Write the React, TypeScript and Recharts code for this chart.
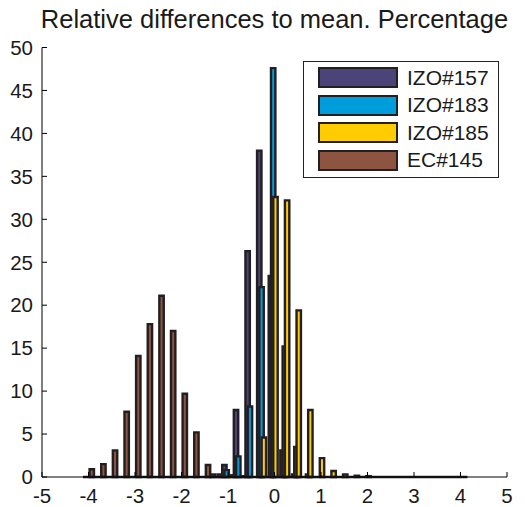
import React from 'react';
import { BarChart, Bar, XAxis, YAxis, Legend, ReferenceLine } from 'recharts';

// bin centres of the histogram (percent difference to mean)
const bins = [
  -4, -3.75, -3.5, -3.25, -3, -2.75, -2.5, -2.25, -2, -1.75, -1.5, -1.25, -1, -0.75, -0.5, -0.25,
  0, 0.25, 0.5, 0.75, 1, 1.25, 1.5, 1.75, 2, 2.25, 2.5, 2.75, 3, 3.25, 3.5, 3.75, 4,
];

const izo157 = [
  0, 0, 0, 0, 0, 0, 0, 0, 0, 0, 0, 0.3, 1.4, 7.8, 26.3, 38.0,
  23.4, 3.1, 0.3, 0, 0, 0, 0, 0, 0, 0, 0, 0, 0, 0, 0, 0, 0,
];
const izo183 = [
  0, 0, 0, 0, 0, 0, 0, 0, 0, 0, 0, 0, 0.8, 2.4, 8.2, 22.1,
  47.6, 15.2, 3.5, 0.3, 0, 0, 0, 0, 0, 0, 0, 0, 0, 0, 0, 0, 0,
];
const izo185 = [
  0, 0, 0, 0, 0, 0, 0, 0, 0, 0, 0, 0, 0, 0, 0, 4.6,
  32.6, 32.2, 19.4, 7.8, 2.2, 0.7, 0.3, 0.15, 0.1, 0, 0, 0, 0, 0, 0, 0, 0,
];
const ec145 = [
  0.9, 1.5, 3.1, 7.6, 14.1, 17.8, 21.1, 17.0, 9.7, 5.2, 1.4, 0.3, 0.2, 0.1, 0, 0,
  0, 0, 0, 0, 0, 0, 0, 0, 0, 0, 0, 0, 0, 0, 0, 0, 0,
];

const xTicks = [-5, -4, -3, -2, -1, 0, 1, 2, 3, 4, 5];
const yTicks = [0, 5, 10, 15, 20, 25, 30, 35, 40, 45, 50];

const series = [
  { key: 'izo157', name: 'IZO#157', color: '#4a4478' },
  { key: 'izo183', name: 'IZO#183', color: '#009ddc' },
  { key: 'izo185', name: 'IZO#185', color: '#ffcc00' },
  { key: 'ec145', name: 'EC#145', color: '#8e5442' },
];

const data = bins.map((x, i) => ({
  x,
  izo157: izo157[i],
  izo183: izo183[i],
  izo185: izo185[i],
  ec145: ec145[i],
}));

const FONT = '"Liberation Sans", Arial, Helvetica, sans-serif';
const EDGE = '#231f20';
const tickStyle = { fontSize: 20.5, fill: '#1a1a1a', fontFamily: FONT };

// MATLAB-like boxed legend
const BoxLegend = () => (
  <div
    style={{
      border: '1.5px solid #222',
      background: '#fff',
      padding: '2px 8px 3px 14px',
      fontFamily: FONT,
      fontSize: 21,
      color: '#1a1a1a',
      boxSizing: 'border-box',
    }}
  >
    {series.map((s) => (
      <div key={s.key} style={{ display: 'flex', alignItems: 'center', height: 27.5 }}>
        <span
          style={{
            width: 76,
            height: 17,
            background: s.color,
            border: `2px solid ${EDGE}`,
            marginRight: 9,
            display: 'inline-block',
          }}
        />
        <span>{s.name}</span>
      </div>
    ))}
  </div>
);

export default function App() {
  return (
    <div style={{ position: 'absolute', left: 0, top: 0, width: 525, height: 507, background: '#fff' }}>
      <div
        style={{
          position: 'absolute',
          left: 0,
          top: 5,
          width: 549,
          textAlign: 'center',
          fontFamily: FONT,
          fontSize: 25.5,
          color: '#1a1a1a',
          whiteSpace: 'nowrap',
        }}
      >
        Relative differences to mean. Percentage
      </div>
      <BarChart
        width={525}
        height={507}
        data={data}
        margin={{ top: 47.5, right: 18, bottom: 5, left: 5 }}
        barSize={4.4}
        barGap={-2.1}
      >
        <XAxis
          dataKey="x"
          type="number"
          domain={[-5, 5]}
          ticks={xTicks}
          allowDataOverflow
          height={25}
          axisLine={{ stroke: '#000', strokeWidth: 1 }}
          tickLine={{ stroke: '#000' }}
          tickSize={-5}
          tickMargin={16}
          tick={tickStyle}
          interval={0}
        />
        <XAxis
          xAxisId="top"
          dataKey="x"
          type="number"
          orientation="top"
          domain={[-5, 5]}
          ticks={xTicks}
          allowDataOverflow
          height={0}
          axisLine={{ stroke: '#000', strokeWidth: 1 }}
          tickLine={{ stroke: '#000' }}
          tickSize={-5}
          tick={false}
          interval={0}
        />
        <YAxis
          type="number"
          domain={[0, 50]}
          ticks={yTicks}
          width={37}
          axisLine={{ stroke: '#000', strokeWidth: 1 }}
          tickLine={{ stroke: '#000' }}
          tickSize={-5}
          tickMargin={14}
          tick={tickStyle}
          interval={0}
        />
        <YAxis
          yAxisId="right"
          orientation="right"
          type="number"
          domain={[0, 50]}
          ticks={yTicks}
          width={0}
          axisLine={{ stroke: '#000', strokeWidth: 1 }}
          tickLine={{ stroke: '#000' }}
          tickSize={-5}
          tick={false}
          interval={0}
        />
        <ReferenceLine
          segment={[
            { x: -4.12, y: 0 },
            { x: 4.15, y: 0 },
          ]}
          stroke={EDGE}
          strokeWidth={2.5}
        />
        {series.map((s) => (
          <Bar
            key={s.key}
            dataKey={s.key}
            name={s.name}
            fill={s.color}
            stroke={EDGE}
            strokeWidth={2.4}
            isAnimationActive={false}
          />
        ))}
        <Legend
          content={<BoxLegend />}
          layout="horizontal"
          verticalAlign="middle"
          align="center"
          wrapperStyle={{ position: 'absolute', left: 303, top: 61, width: 196 }}
        />
      </BarChart>
    </div>
  );
}
